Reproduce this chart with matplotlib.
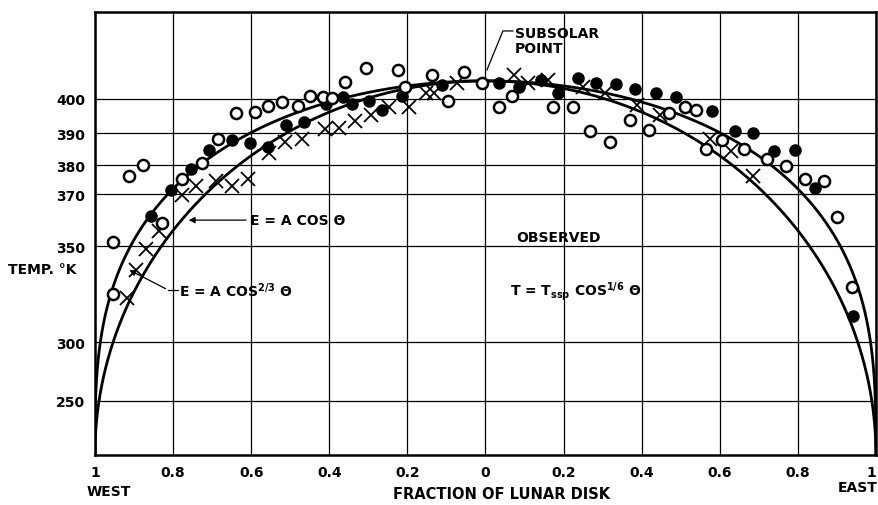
import numpy as np
import matplotlib
matplotlib.use('Agg')
import matplotlib.pyplot as plt

# Observed points: fraction of lunar disk (west < 0, east > 0) and temperature (K)
open_x = [-0.955, -0.953, -0.914, -0.876, -0.827, -0.776, -0.725, -0.686, -0.638, -0.589,
          -0.556, -0.520, -0.481, -0.448, -0.417, -0.394, -0.359, -0.307, -0.225, -0.207,
          -0.138, -0.097, -0.054, -0.008, 0.036, 0.069, 0.172, 0.223, 0.269, 0.320,
          0.371, 0.420, 0.471, 0.510, 0.538, 0.566, 0.607, 0.661, 0.720, 0.771,
          0.819, 0.868, 0.901, 0.940]
open_t = [328.0, 351.6, 376.2, 380.0, 359.2, 375.2, 380.6, 388.1, 395.9, 396.2,
          398.1, 399.2, 398.1, 400.8, 400.5, 400.3, 404.7, 408.4, 407.9, 403.2,
          406.6, 399.5, 407.4, 404.5, 397.8, 400.8, 397.8, 397.8, 390.8, 387.2,
          394.1, 391.1, 395.9, 397.8, 397.0, 385.3, 387.8, 385.3, 381.9, 379.7,
          375.5, 374.5, 361.6, 331.3]

fill_x = [-0.857, -0.804, -0.753, -0.709, -0.650, -0.602, -0.556, -0.510, -0.464, -0.407,
          -0.366, -0.341, -0.297, -0.266, -0.213, -0.110, 0.036, 0.087, 0.143, 0.187,
          0.236, 0.284, 0.335, 0.384, 0.438, 0.489, 0.581, 0.638, 0.686, 0.740,
          0.794, 0.843, 0.942]
fill_t = [362.0, 371.7, 378.6, 384.7, 387.8, 386.9, 385.9, 392.4, 393.5, 398.6,
          400.5, 398.6, 399.5, 396.8, 400.8, 403.9, 404.5, 403.4, 405.3, 401.8,
          405.8, 404.5, 404.2, 402.9, 401.8, 400.5, 396.5, 390.8, 390.0, 384.4,
          384.7, 372.4, 315.9]

cross_x = [-0.917, -0.894, -0.868, -0.835, -0.776, -0.740, -0.689, -0.648, -0.607, -0.553,
           -0.512, -0.469, -0.412, -0.374, -0.333, -0.292, -0.246, -0.195, -0.151, -0.131,
           -0.072, 0.074, 0.108, 0.159, 0.251, 0.305, 0.389, 0.446, 0.574, 0.630, 0.686]
cross_t = [325.8, 339.6, 348.9, 356.4, 369.6, 372.8, 374.8, 372.8, 375.5, 383.8,
           387.2, 388.4, 391.4, 391.6, 393.8, 395.4, 397.8, 397.8, 401.8, 401.8,
           404.5, 406.6, 404.5, 405.3, 403.2, 401.8, 398.4, 395.4, 388.4, 384.4, 376.2]

t_ssp = 405  # subsolar point temperature
y_ticks = [250, 300, 350, 370, 380, 390, 400]
x_ticks = [-1, -0.8, -0.6, -0.4, -0.2, 0, 0.2, 0.4, 0.6, 0.8, 1]
x_labels = ['1', '0.8', '0.6', '0.4', '0.2', '0', '0.2', '0.4', '0.6', '0.8', '1']

plt.rcParams['font.family'] = 'DejaVu Sans'
plt.rcParams['font.weight'] = 'bold'
plt.rcParams['mathtext.fontset'] = 'dejavusans'

fig = plt.figure(figsize=(8.79, 5.06), dpi=100)
ax = fig.add_axes([0.108, 0.099, 0.8885, 0.8755])

# vertical axis is linear in emitted energy, E ~ T^4
ax.set_yscale('function', functions=(lambda t: np.sign(t) * np.abs(t) ** 4,
                                     lambda e: np.sign(e) * np.abs(e) ** 0.25))

# model curves, x = sin(theta); E ~ T^4
theta = np.linspace(-np.pi / 2, np.pi / 2, 1201)
xs = np.sin(theta)
c = np.clip(np.cos(theta), 0, None)
ax.plot(xs, t_ssp * c ** (1 / 4), color='black', lw=2.0, zorder=3)   # E = A cos
ax.plot(xs, t_ssp * c ** (1 / 6), color='black', lw=2.0, zorder=3)   # E = A cos^(2/3)

ax.plot(cross_x, cross_t, 'x', color='black', ms=10, mew=1.3, zorder=4)
ax.plot(fill_x, fill_t, 'o', color='black', ms=8, zorder=5)
ax.plot(open_x, open_t, 'o', mfc='white', mec='black', ms=8, mew=1.8, zorder=5)

ax.set_xlim(-1, 1)
ax.set_ylim(0, 422.5)
ax.set_xticks(x_ticks)
ax.set_xticklabels(x_labels)
ax.get_xticklabels()[-1].set_ha('right')
ax.set_yticks(y_ticks)
ax.grid(True, color='black', lw=0.9)
ax.tick_params(length=0, labelsize=10, pad=7)
for s in ax.spines.values():
    s.set_linewidth(1.8)

# labels
ax.annotate('', xy=(0.1165, 0.530), xytext=(0.197, 0.530), xycoords='axes fraction',
            arrowprops=dict(arrowstyle='-|>', color='black', lw=0.9, mutation_scale=9))
ax.text(0.199, 0.530, 'E = A COS Θ', transform=ax.transAxes, va='center', fontsize=10)

ax.plot([0.0935, 0.1063], [0.3725, 0.3725], color='black', lw=0.9, transform=ax.transAxes)
ax.annotate('', xy=(0.041, 0.42), xytext=(0.0935, 0.3725), xycoords='axes fraction',
            arrowprops=dict(arrowstyle='-|>', color='black', lw=0.9, mutation_scale=9))
ax.text(0.108, 0.372, r'E = A COS$^{\mathbf{2/3}}$ Θ', transform=ax.transAxes,
        va='center', fontsize=10)

ax.plot([0.535, 0.5224, 0.5019], [0.957, 0.957, 0.869], color='black', lw=0.9,
        transform=ax.transAxes)
ax.text(0.538, 0.968, 'SUBSOLAR\nPOINT', transform=ax.transAxes, va='top',
        fontsize=10, linespacing=1.1)

ax.text(0.540, 0.492, 'OBSERVED', transform=ax.transAxes, va='center', fontsize=10)
ax.text(0.531, 0.370, r'T = T$_{\mathbf{ssp}}$ COS$^{\mathbf{1/6}}$ Θ',
        transform=ax.transAxes, va='center', fontsize=10)

fig.text(0.009, 0.466, 'TEMP. °K', va='center', ha='left', fontsize=10)
fig.text(0.099, 0.028, 'WEST', va='center', ha='left', fontsize=10)
fig.text(0.998, 0.036, 'EAST', va='center', ha='right', fontsize=10)
fig.text(0.5705, 0.022, 'FRACTION OF LUNAR DISK', va='center', ha='center', fontsize=10.5)

fig.savefig('out.png', dpi=100)
